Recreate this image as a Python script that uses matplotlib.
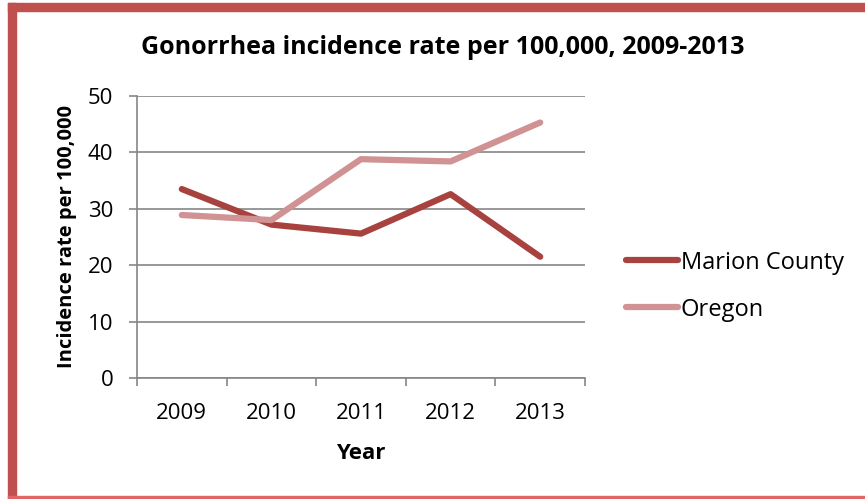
import matplotlib.pyplot as plt
from matplotlib.patches import Rectangle

years = ['2009', '2010', '2011', '2012', '2013']
marion = [33.5, 27.2, 25.6, 32.6, 21.5]
oregon = [28.9, 28.0, 38.8, 38.4, 45.3]

plt.rcParams['font.family'] = ['Open Sans', 'DejaVu Sans']

fig = plt.figure(figsize=(8.65, 4.99), dpi=100)
W, H = 865, 499

# red frame (thick top/left, thin bottom as in the reference crop)
red = '#C0504D'
fig.patches.append(Rectangle((8 / W, 0), 8 / W, 1 - 3 / H, transform=fig.transFigure, color=red))
fig.patches.append(Rectangle((8 / W, 1 - 11 / H), 1 - 8 / W, 8 / H, transform=fig.transFigure, color=red))
fig.patches.append(Rectangle((8 / W, 1 / H), 1 - 8 / W, 2 / H, transform=fig.transFigure, color='#E06666'))

ax = fig.add_axes([137 / W, 1 - 378 / H, 448 / W, 282 / H])
x = range(len(years))
ax.plot(x, marion, color='#A8423F', lw=4.5, solid_capstyle='round', label='Marion County')
ax.plot(x, oregon, color='#D09292', lw=4.5, solid_capstyle='round', label='Oregon')

ax.set_xlim(-0.5, 4.5)
ax.set_ylim(0, 50)
ax.set_yticks(range(0, 51, 10))
ax.set_xticks([i - 0.5 for i in range(6)])
ax.set_xticklabels([])
ax.set_xticks(list(x), minor=True)
ax.set_xticklabels(years, minor=True)
ax.tick_params(axis='x', which='minor', length=0, pad=18, labelsize=16)
ax.tick_params(axis='x', which='major', length=6, color='#868686', width=1.2)
ax.tick_params(axis='y', length=6, color='#868686', width=1.2, labelsize=16, pad=11)
ax.grid(axis='y', color='#868686', lw=1.2)
ax.set_axisbelow(True)
for s in ['top', 'right']:
    ax.spines[s].set_visible(False)
for s in ['left', 'bottom']:
    ax.spines[s].set_color('#868686')
    ax.spines[s].set_linewidth(1.2)

ax.set_xlabel('Year', fontweight='bold', fontsize=16, labelpad=14)
ax.set_ylabel('Incidence rate per 100,000', fontweight='bold', fontsize=14.5, labelpad=8)
fig.text(443 / W, 1 - 47 / H, 'Gonorrhea incidence rate per 100,000, 2009-2013',
         ha='center', va='center', fontweight='bold', fontsize=18)

ax.legend(loc='center left', bbox_to_anchor=(1.045, 0.326), frameon=False, fontsize=17,
          handlelength=2.2, handletextpad=0.1, labelspacing=0.97)

fig.savefig('out.png', dpi=100)
